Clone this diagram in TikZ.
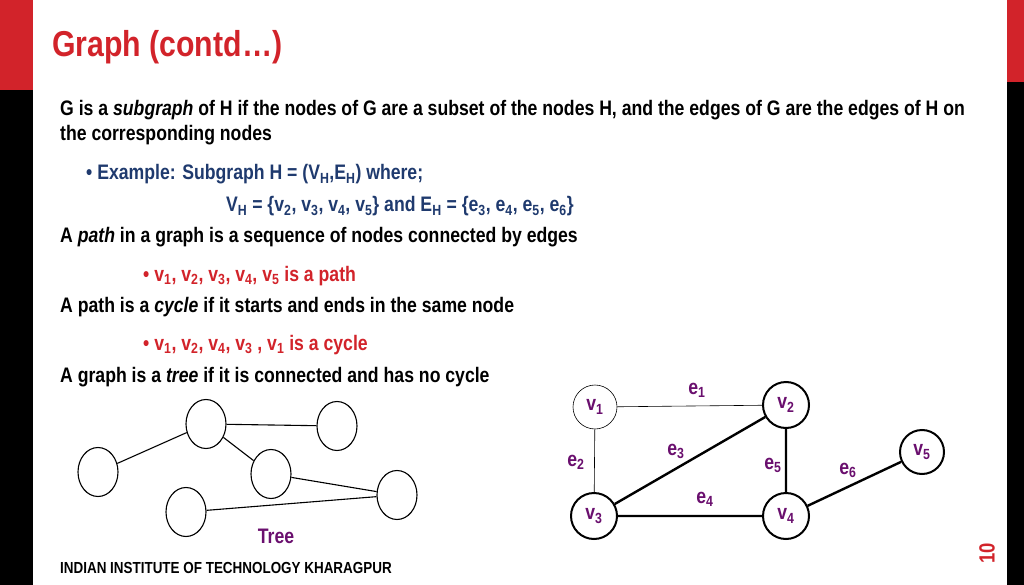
\documentclass[tikz,border=0pt]{standalone}
\usepackage{fontspec}
\setmainfont{Liberation Sans}[FakeStretch=0.84]
\usetikzlibrary{shapes.geometric}
\newcommand{\sbs}[1]{\textsubscript{#1}}
\begin{document}
\begin{tikzpicture}[x=1pt,y=-1pt,
  txt/.style={anchor=base west,inner sep=0pt,font=\bfseries\fontsize{21}{24}\selectfont},
  gv/.style={circle,draw,line width=2pt,minimum size=46pt,inner sep=0pt,text=lbl,font=\bfseries\fontsize{21}{24}\selectfont},
  tv/.style={ellipse,draw,line width=1.1pt,minimum width=40pt,minimum height=49pt},
  el/.style={text=lbl,inner sep=0pt,font=\bfseries\fontsize{21}{24}\selectfont}]
\definecolor{ired}{HTML}{D2232A}
\definecolor{iblue}{HTML}{1F3A6E}
\definecolor{lbl}{HTML}{6A0F6E}
\useasboundingbox (0,0) rectangle (1024,585);
\fill[ired] (0,0) rectangle (33,90);
\fill[black] (0,90) rectangle (33,585);
\fill[ired] (1007,0) rectangle (1024,82);
\fill[black] (1007,82) rectangle (1024,585);
\node[anchor=base west,inner sep=0pt,text=ired,font=\bfseries\fontsize{36}{40}\selectfont] (title) at (52,57) {Graph (contd…)};
\node[txt] (l1) at (60,116) {G is a \textit{subgraph} of H if the nodes of G are a subset of the nodes H, and the edges of G are the edges of H on};
\node[txt] (l2) at (60,141) {the corresponding nodes};
\node[txt,text=iblue] (b1) at (86,180) {•\hspace{5pt}Example: Subgraph H = (V\sbs{H},E\sbs{H}) where;};
\node[txt,text=iblue] (l4) at (226,212) {V\sbs{H} = \{v\sbs{2}, v\sbs{3}, v\sbs{4}, v\sbs{5}\} and E\sbs{H} = \{e\sbs{3}, e\sbs{4}, e\sbs{5}, e\sbs{6}\}};
\node[txt] (l5) at (60,243) {A \textit{path} in a graph is a sequence of nodes connected by edges};
\node[txt,text=ired] (b2) at (143,281) {•\hspace{5pt}v\sbs{1}, v\sbs{2}, v\sbs{3}, v\sbs{4}, v\sbs{5} is a path};
\node[txt] (l7) at (60,312) {A path is a \textit{cycle} if it starts and ends in the same node};
\node[txt,text=ired] (b3) at (143,350) {•\hspace{5pt}v\sbs{1}, v\sbs{2}, v\sbs{4}, v\sbs{3} , v\sbs{1} is a cycle};
\node[txt] (l9) at (60,382) {A graph is a \textit{tree} if it is connected and has no cycle};
\node[anchor=base west,inner sep=0pt,font=\bfseries\fontsize{16}{18}\selectfont] (foot) at (60,573) {INDIAN INSTITUTE OF TECHNOLOGY KHARAGPUR};
\node[rotate=90,text=ired,font=\bfseries\fontsize{22}{24}\selectfont,inner sep=0pt] (pg) at (987,553) {10};
% tree
\node[tv] (A) at (206,424) {};
\node[tv] (B) at (337,426) {};
\node[tv] (C) at (98,472) {};
\node[tv] (D) at (271,474) {};
\node[tv] (E) at (397,495) {};
\node[tv] (F) at (186,512) {};
\draw[line width=1.1pt] (A)--(B) (A)--(C) (A)--(D) (D)--(E) (F)--(E);
\node[el] (tl) at (276,536) {Tree};
% graph
\node[gv,line width=0.6pt,minimum size=44pt] (v1) at (595,407) {v\sbs{1}};
\node[gv] (v2) at (786,405) {v\sbs{2}};
\node[gv] (v3) at (594,516) {v\sbs{3}};
\node[gv] (v4) at (786,516) {v\sbs{4}};
\node[gv,minimum size=44pt] (v5) at (922,452) {v\sbs{5}};
\draw[line width=0.6pt] (v1)--(v2) (v1)--(v3);
\draw[line width=2.4pt] (v3)--(v2) (v3)--(v4) (v2)--(v4) (v4)--(v5);
\node[el] (e1) at (697,390) {e\sbs{1}};
\node[el] (e2) at (576,462) {e\sbs{2}};
\node[el] (e3) at (676,451) {e\sbs{3}};
\node[el] (e4) at (705,499) {e\sbs{4}};
\node[el] (e5) at (773,465) {e\sbs{5}};
\node[el] (e6) at (848,470) {e\sbs{6}};
\end{tikzpicture}
\end{document}
